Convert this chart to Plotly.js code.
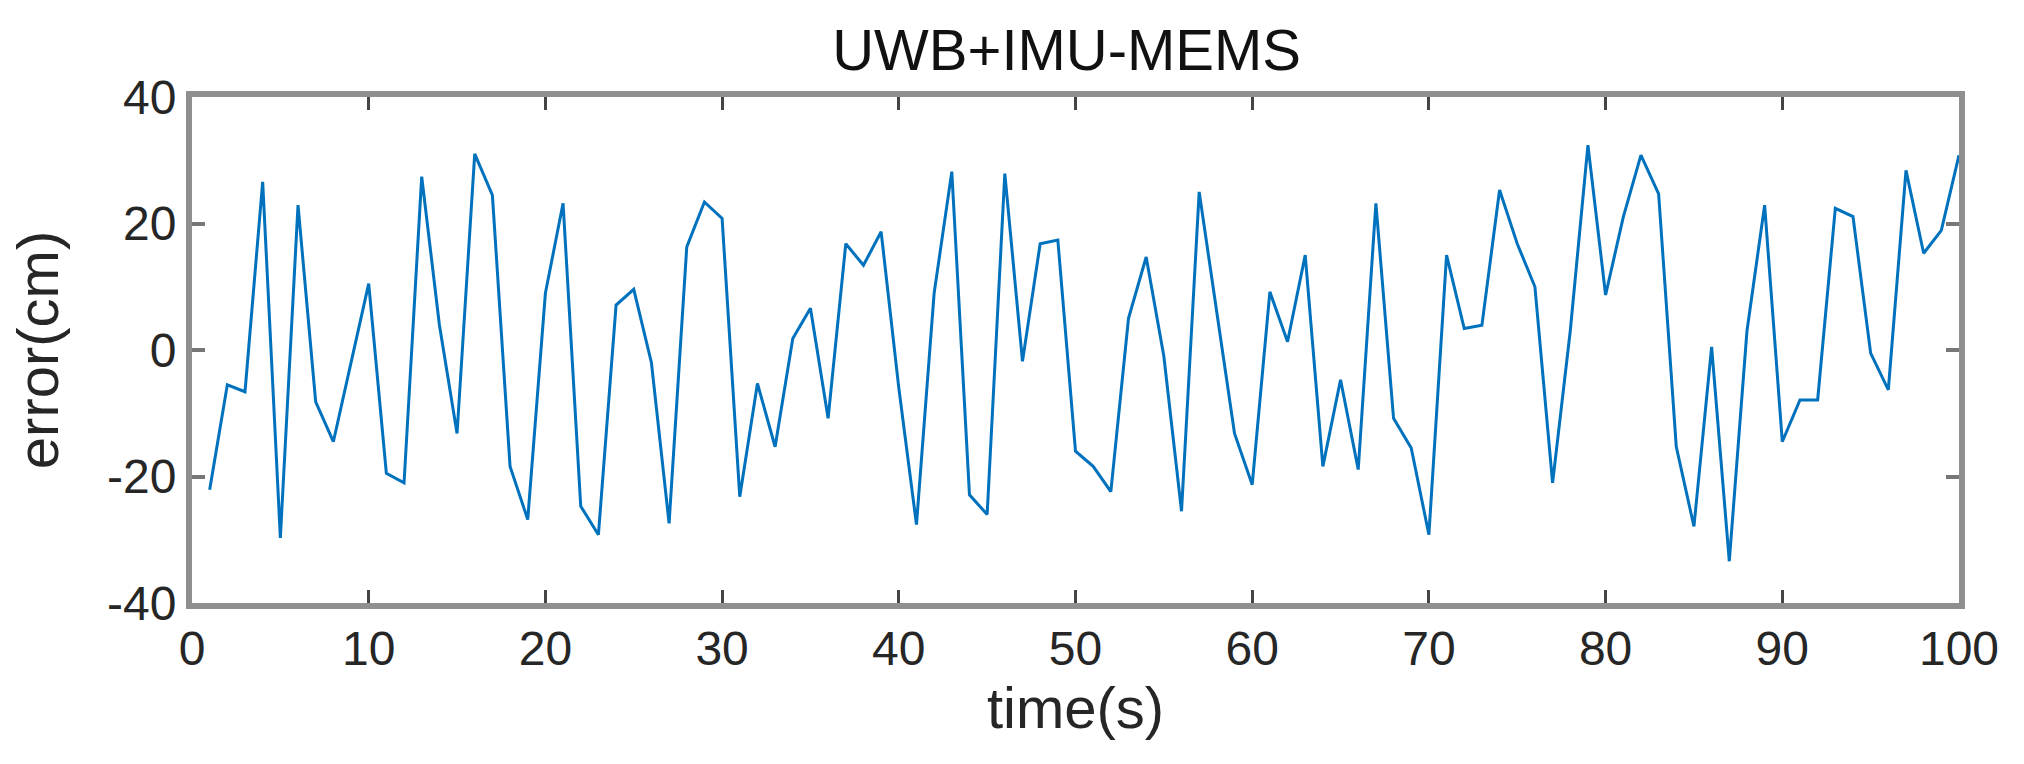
<!DOCTYPE html>
<html>
<head>
<meta charset="utf-8">
<script src="https://cdn.plot.ly/plotly-3.0.1.min.js"></script>
<style>
  html, body { margin: 0; padding: 0; background: #fff; }
  #graph { width: 2024px; height: 764px; }
</style>
</head>
<body>
<div id="graph"></div>
<script>
// time axis (seconds), one sample per second
var time = [1, 2, 3, 4, 5, 6, 7, 8, 9, 10,
            11, 12, 13, 14, 15, 16, 17, 18, 19, 20,
            21, 22, 23, 24, 25, 26, 27, 28, 29, 30,
            31, 32, 33, 34, 35, 36, 37, 38, 39, 40,
            41, 42, 43, 44, 45, 46, 47, 48, 49, 50,
            51, 52, 53, 54, 55, 56, 57, 58, 59, 60,
            61, 62, 63, 64, 65, 66, 67, 68, 69, 70,
            71, 72, 73, 74, 75, 76, 77, 78, 79, 80,
            81, 82, 83, 84, 85, 86, 87, 88, 89, 90,
            91, 92, 93, 94, 95, 96, 97, 98, 99, 100];

// positioning error in cm
var errorCm = [-22.1, -5.5, -6.6, 26.6, -29.7, 22.9, -8.2, -14.5, -2, 10.5,
               -19.5, -21, 27.4, 4, -13.2, 31, 24.5, -18.4, -26.8, 9,
               23.2, -24.7, -29.2, 7.1, 9.6, -2, -27.4, 16.3, 23.4, 20.8,
               -23.2, -5.3, -15.3, 1.8, 6.6, -10.8, 16.8, 13.4, 18.7, -6,
               -27.6, 9, 28.2, -22.9, -26, 27.9, -1.8, 16.8, 17.4, -16,
               -18.4, -22.4, 5, 14.7, -1, -25.5, 25, 6, -13.2, -21.3,
               9.2, 1.3, 15, -18.4, -4.7, -18.9, 23.2, -10.8, -15.5, -29.2,
               15, 3.4, 3.9, 25.3, 16.8, 10, -21, 3, 32.4, 8.7,
               21, 30.8, 24.7, -15.3, -27.9, 0.5, -33.4, 3, 22.9, -14.5,
               -7.9, -7.9, 22.4, 21.1, -0.5, -6.3, 28.4, 15.3, 18.9, 30.8];

var xTicks = [0, 10, 20, 30, 40, 50, 60, 70, 80, 90, 100];
var yTicks = [-40, -20, 0, 20, 40];
// plain hyphen minus like the original figure
var yTickText = ['-40', '-20', '0', '20', '40'];

function drawGraph() {
    var trace, data, layout;

    trace = {
        x: time,
        y: errorCm,
        type: 'scatter',
        mode: 'lines',
        line: { color: '#0072BD', width: 3 },
        hoverinfo: 'skip'
    };

    data = [trace];

    // matlab-ish boxed axes, thick grey frame, ticks inside
    layout = {
        width: 2024,
        height: 764,
        margin: { l: 192, r: 65, t: 97, b: 161 },
        paper_bgcolor: '#fff',
        plot_bgcolor: '#fff',
        showlegend: false,
        font: { family: '"Liberation Sans", Arial, sans-serif', color: '#262626' },
        title: {
            text: 'UWB+IMU-MEMS',
            font: { size: 58, color: '#111' },
            x: 0.527, xanchor: 'center',
            yref: 'container', y: 0.935, yanchor: 'middle'
        },
        xaxis: {
            range: [0, 100],
            tickvals: xTicks,
            ticks: 'inside', ticklen: 13, tickwidth: 3, tickcolor: '#444',
            showline: true, linecolor: '#8f8f8f', linewidth: 6, mirror: 'allticks',
            showgrid: false, zeroline: false,
            tickfont: { size: 48 },
            ticklabelstandoff: -2,
            title: { text: 'time(s)', font: { size: 58 }, standoff: 13 }
        },
        yaxis: {
            range: [-40, 40],
            tickvals: yTicks,
            ticktext: yTickText,
            ticks: 'inside', ticklen: 13, tickwidth: 4, tickcolor: '#777',
            showline: true, linecolor: '#8f8f8f', linewidth: 6, mirror: 'allticks',
            showgrid: false, zeroline: false,
            tickfont: { size: 48 },
            ticklabelstandoff: 0,
            title: { text: 'error(cm)', font: { size: 58 }, standoff: 32 }
        }
    };

    Plotly.newPlot('graph', data, layout, { displayModeBar: false, staticPlot: true });
}

drawGraph();
</script>
</body>
</html>
